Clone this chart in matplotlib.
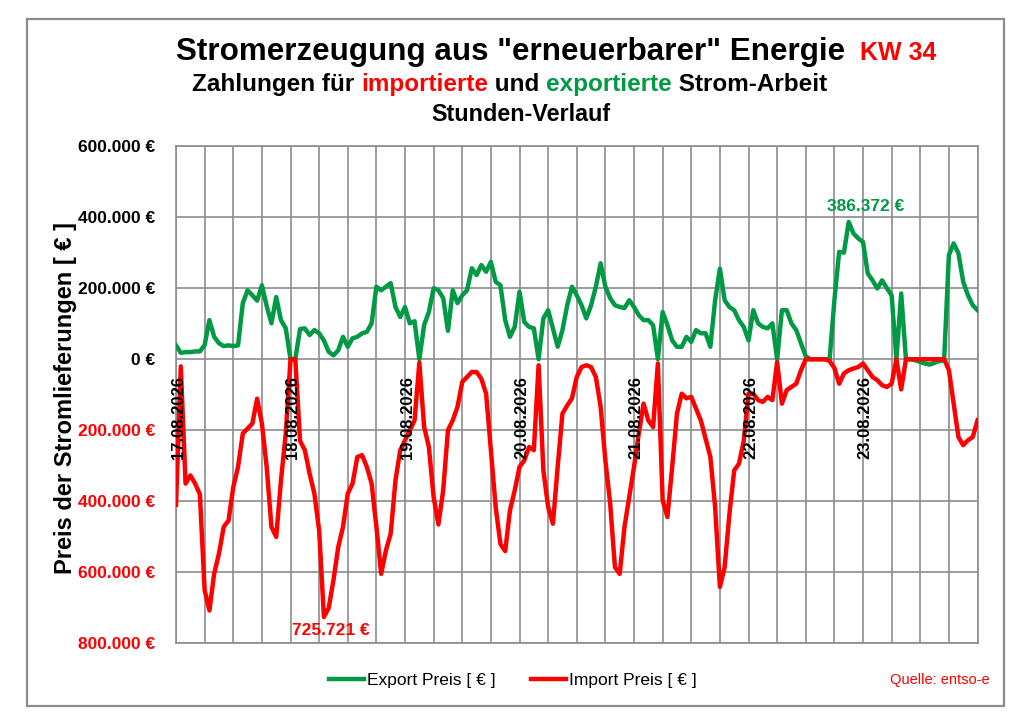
import numpy as np
import matplotlib
matplotlib.use("Agg")
import matplotlib.pyplot as plt
from matplotlib.patches import Rectangle
from matplotlib.ticker import FuncFormatter, MultipleLocator

plt.rcParams["font.family"] = ["Liberation Sans", "DejaVu Sans"]

# hourly values in thousand EUR, hour 0 = 17.08.2026 00:00
export_k = [
    39, 18, 20, 20, 22, 22, 40, 110, 63, 45, 37, 39, 37, 39, 158, 194, 180, 165, 208, 150, 101, 175, 110, 87,
    0, 0, 85, 87, 68, 82, 73, 53, 21, 11, 25, 63, 35, 59, 63, 73, 77, 101, 204, 194, 204, 214, 147, 119,
    147, 101, 107, 0, 96, 133, 200, 194, 172, 80, 194, 158, 180, 194, 256, 237, 265, 246, 274, 218, 208, 110, 63, 91,
    190, 105, 91, 87, 0, 115, 138, 87, 35, 82, 152, 204, 180, 152, 115, 152, 204, 270, 204, 172, 152, 147, 144, 166,
    147, 124, 110, 110, 96, 0, 133, 96, 53, 35, 35, 63, 49, 82, 73, 73, 35, 166, 255, 166, 147, 138, 110, 91,
    53, 138, 101, 91, 87, 101, 0, 138, 138, 101, 82, 45, 8, 0, 0, 0, 0, 0, 166, 302, 300, 386.372, 354, 340,
    330, 241, 222, 199, 222, 200, 180, 0, 185, 0, 0, -3, -8, -12, -15, -10, -5, -3, 293, 326, 298, 218, 180, 152,
    138,
]
import_k = [
    -410, -20, -350, -327, -350, -380, -650, -707, -603, -547, -472, -454, -360, -303, -209, -195, -181, -111, -181, -303, -472, -500, -341, -209,
    0, 0, -230, -256, -322, -378, -482, -725.721, -700, -622, -529, -472, -378, -350, -275, -270, -303, -350, -472, -604, -538, -491, -341, -256,
    -228, -200, -172, -10, -190, -247, -388, -465, -369, -200, -172, -134, -64, -50, -36, -36, -55, -97, -256, -416, -520, -540, -425, -369,
    -303, -285, -247, -256, -17, -313, -416, -463, -303, -153, -130, -110, -50, -22, -17, -22, -50, -134, -285, -406, -585, -604, -472, -388,
    -303, -209, -125, -172, -191, -12, -397, -444, -303, -153, -97, -110, -106, -139, -172, -223, -275, -416, -641, -585, -435, -313, -294, -230,
    -97, -97, -115, -120, -106, -115, -8, -125, -87, -78, -69, -31, 0, 0, 0, 0, 0, -5, -25, -69, -40, -31, -26, -22,
    -12, -31, -50, -59, -73, -78, -69, 0, -85, 0, 0, 0, 0, 0, 0, 0, 0, 0, -30, -125, -219, -242, -228, -219,
    -172,
]
day_labels = ["17.08.2026", "18.08.2026", "19.08.2026", "20.08.2026",
              "21.08.2026", "22.08.2026", "23.08.2026"]

GREEN = "#009a44"
RED = "#ff0000"
GRID = "#8c8c8c"

export = np.array(export_k) * 1000
imp = np.array(import_k) * 1000
hours = np.arange(len(export))


def euro(v, pos=None):
    return f"{abs(v):,.0f}".replace(",", ".") + " €"


fig = plt.figure(figsize=(10.24, 7.24), dpi=100)
fig.add_artist(Rectangle((27 / 1024, 1 - 706 / 724), 977 / 1024, 687 / 724,
                         transform=fig.transFigure, fill=False,
                         edgecolor="#8c8c8c", linewidth=1.6))

ax = fig.add_axes([0.1719, 0.1112, 0.7827, 0.6871])

ax.plot(hours, export, color=GREEN, linewidth=3.2, label="Export Preis [ € ]",
        solid_joinstyle="round", zorder=3)
ax.plot(hours, imp, color=RED, linewidth=3.2, label="Import Preis [ € ]",
        solid_joinstyle="round", zorder=4)

ax.set_xlim(0, 168)
ax.set_ylim(-800000, 600000)
ax.xaxis.set_major_locator(MultipleLocator(6))
ax.yaxis.set_major_locator(MultipleLocator(200000))
ax.yaxis.set_major_formatter(FuncFormatter(euro))
ax.tick_params(axis="x", length=0, labelbottom=False)
ax.tick_params(axis="y", length=0, pad=15, labelsize=12.5)
for lab in ax.get_yticklabels():
    lab.set_fontweight("bold")
for lab, v in zip(ax.get_yticklabels(), ax.get_yticks()):
    lab.set_color(RED if v < 0 else "black")
ax.grid(True, color=GRID, linewidth=1.2)
ax.set_axisbelow(True)
for sp in ax.spines.values():
    sp.set_color(GRID)
    sp.set_linewidth(1.2)

# date labels hang below the zero line
for i, lab in enumerate(day_labels):
    ax.annotate(lab, xy=(i * 24, 0), xytext=(1.5, -12), textcoords="offset points",
                rotation=90, ha="center", va="top", fontsize=12, fontweight="bold",
                zorder=5)

# extreme values
i_max = int(np.argmax(export))
ax.annotate(euro(export[i_max]), xy=(hours[i_max], export[i_max]), xytext=(12, 6),
            textcoords="offset points", ha="center", va="bottom",
            color=GREEN, fontsize=12.5, fontweight="bold")
i_min = int(np.argmin(imp))
ax.annotate(euro(imp[i_min]), xy=(hours[i_min], imp[i_min]), xytext=(5, -4),
            textcoords="offset points", ha="center", va="top",
            color=RED, fontsize=12.5, fontweight="bold")

fig.text(66 / 1024, 1 - 398 / 724, "Preis der Stromlieferungen [ € ]", rotation=90,
         ha="center", va="center", fontsize=17, fontweight="bold")

# titles
fig.text(176 / 1024, 1 - 60 / 724, 'Stromerzeugung aus "erneuerbarer" Energie',
         ha="left", va="baseline", fontsize=22.6, fontweight="bold")
fig.text(860 / 1024, 1 - 60 / 724, "KW 34", ha="left", va="baseline",
         fontsize=18, fontweight="bold", color=RED)

parts = [("Zahlungen für ", "black"), ("importierte", RED), (" und ", "black"),
         ("exportierte", GREEN), (" Strom-Arbeit", "black")]
prev = fig.text(192 / 1024, 1 - 91 / 724, parts[0][0], ha="left", va="baseline",
                fontsize=17.5, fontweight="bold", color=parts[0][1])
for txt, col in parts[1:]:
    prev = ax.annotate(txt, xy=(1, 0), xycoords=prev, ha="left", va="bottom",
                       fontsize=17.5, fontweight="bold", color=col,
                       annotation_clip=False)

fig.text(521 / 1024, 1 - 121 / 724, "Stunden-Verlauf", ha="center", va="baseline",
         fontsize=16.8, fontweight="bold")

fig.legend(loc="center", bbox_to_anchor=(513 / 1024, 1 - 680 / 724), ncol=2,
           frameon=False, fontsize=12.5, handlelength=2.0, handletextpad=0.2,
           columnspacing=2.0)
fig.text(990 / 1024, 1 - 680 / 724, "Quelle: entso-e", ha="right", va="center",
         fontsize=10.5, color=RED)

fig.savefig("out.png", dpi=100)
